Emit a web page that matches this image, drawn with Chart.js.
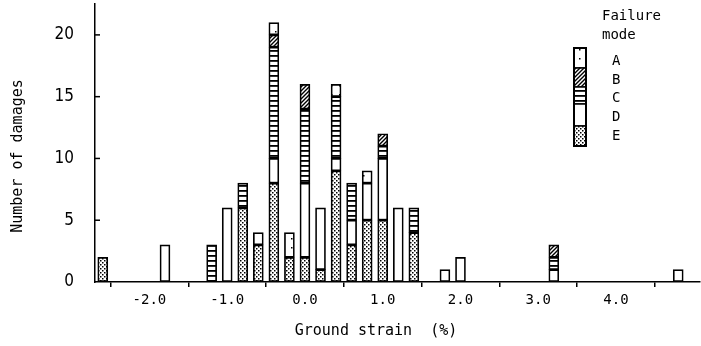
<!DOCTYPE html>
<html>
<head>
<meta charset="utf-8">
<script src="https://cdn.jsdelivr.net/npm/chart.js@4.4.0/dist/chart.umd.min.js"></script>
<style>
  html, body { margin: 0; padding: 0; background: #fff; }
  #wrap { width: 701px; height: 346px; }
</style>
</head>
<body>
<div id="wrap"><canvas id="canvas-damages" width="701" height="346"></canvas></div>
<script>
// Ground strain bins (%), one bar per bin
const strain = [-2.6, -1.8, -1.2, -1.0, -0.8, -0.6, -0.4, -0.2, 0.0, 0.2, 0.4, 0.6, 0.8, 1.0, 1.2, 1.4, 1.8, 2.0, 3.2, 4.8];

// Number of damages per failure mode (stacked E at bottom .. A on top)
const modeE = [2, 0, 0, 0, 6, 3, 8, 2, 2, 1, 9, 3, 5, 5, 0, 4, 0, 0, 0, 0];
const modeD = [0, 3, 0, 6, 0, 1, 2, 0, 6, 5, 1, 2, 3, 5, 6, 0, 1, 2, 1, 1];
const modeC = [0, 0, 3, 0, 2, 0, 9, 0, 6, 0, 5, 3, 0, 1, 0, 2, 0, 0, 1, 0];
const modeB = [0, 0, 0, 0, 0, 0, 1, 0, 2, 0, 0, 0, 0, 1, 0, 0, 0, 0, 1, 0];
const modeA = [0, 0, 0, 0, 0, 0, 1, 2, 0, 0, 1, 0, 1, 0, 0, 0, 0, 0, 0, 0];

const xTicks = [-2, -1, 0, 1, 2, 3, 4];
const yTicks = [0, 5, 10, 15, 20];
const modeNames = ['A', 'B', 'C', 'D', 'E'];

const xTitle = 'Ground strain  (%)';
const yTitle = 'Number of damages';

const mono = '"DejaVu Sans Mono", "Liberation Mono", monospace';
const narrow = '"Liberation Sans Narrow", "DejaVu Sans Condensed", sans-serif';

// Funcs

const makePattern = (w, h, draw) => {
    const c = document.createElement('canvas');
    c.width = w;
    c.height = h;
    const g = c.getContext('2d');
    g.fillStyle = '#fff';
    g.fillRect(0, 0, w, h);
    g.fillStyle = '#000';
    g.strokeStyle = '#000';
    draw(g);
    return g.createPattern(c, 'repeat');
};

const patterns = {
    A: makePattern(8, 9, g => { g.fillRect(3, 4, 1.5, 1.5); }),
    B: makePattern(4, 4, g => {
        g.lineWidth = 1.4;
        g.beginPath();
        g.moveTo(-1, 5); g.lineTo(5, -1);
        g.moveTo(-1, 1); g.lineTo(1, -1);
        g.moveTo(3, 5); g.lineTo(5, 3);
        g.stroke();
    }),
    C: makePattern(1, 5, g => { g.fillRect(0, 0, 1, 1.8); }),
    D: '#ffffff',
    E: makePattern(4, 4, g => {
        g.fillRect(0, 0, 1.5, 1.5);
        g.fillRect(2, 2, 1.5, 1.5);
    }),
};

const toPoints = arr => strain.map((s, i) => ({ x: s, y: arr[i] > 0 ? arr[i] : null }));

const makeDataset = (name, arr) => ({
    label: name,
    data: toPoints(arr),
    backgroundColor: patterns[name],
    borderColor: '#000',
    borderWidth: 1.7,
    borderSkipped: false,
    barThickness: 10,
});

const extrasPlugin = {
    id: 'extras',
    afterDraw(chart) {
        const { ctx, chartArea } = chart;
        const y = chart.scales.y;
        ctx.save();

        // tick marks on the inside of the y axis
        ctx.strokeStyle = '#000';
        ctx.lineWidth = 1.5;
        yTicks.forEach(v => {
            if (v === 0) return;
            const py = y.getPixelForValue(v);
            ctx.beginPath();
            ctx.moveTo(chartArea.left, py);
            ctx.lineTo(chartArea.left + 5, py);
            ctx.stroke();
        });

        // axis titles
        ctx.fillStyle = '#000';
        ctx.font = '15px ' + mono;
        ctx.textAlign = 'center';
        ctx.textBaseline = 'middle';
        ctx.fillText(xTitle, 376, 331);
        ctx.save();
        ctx.translate(18, 156);
        ctx.rotate(-Math.PI / 2);
        ctx.fillText(yTitle, 0, 0);
        ctx.restore();

        // legend: one stacked box with the five patterns
        ctx.textAlign = 'left';
        ctx.font = '14px ' + mono;
        ctx.fillText('Failure', 602, 16);
        ctx.fillText('mode', 602, 35);
        const edges = [48, 68, 87, 104, 126, 146];
        const labelY = [61, 80, 98, 117, 136];
        modeNames.forEach((m, i) => {
            ctx.fillStyle = patterns[m];
            ctx.fillRect(574, edges[i], 12, edges[i + 1] - edges[i]);
            ctx.strokeRect(574, edges[i], 12, edges[i + 1] - edges[i]);
            ctx.fillStyle = '#000';
            ctx.fillText(m, 612, labelY[i]);
        });
        ctx.lineWidth = 2;
        ctx.strokeRect(574, edges[0], 12, edges[5] - edges[0]);

        ctx.restore();
    }
};

const noPad = scale => {
    scale.paddingTop = 0;
    scale.paddingBottom = 0;
    scale.paddingLeft = 0;
    scale.paddingRight = 0;
};

const chartConfig = {
    type: 'bar',
    data: {
        datasets: [
            makeDataset('E', modeE),
            makeDataset('D', modeD),
            makeDataset('C', modeC),
            makeDataset('B', modeB),
            makeDataset('A', modeA),
        ]
    },
    options: {
        responsive: false,
        animation: false,
        layout: {
            padding: { top: 4, right: 1, left: 0, bottom: 0 },
        },
        scales: {
            x: {
                type: 'linear',
                stacked: true,
                offset: false,
                min: -2.7,
                max: 5.08,
                afterBuildTicks: scale => { scale.ticks = xTicks.map(v => ({ value: v })); },
                afterFit: scale => { scale.height = 64; noPad(scale); },
                border: { display: true, color: '#000', width: 1.5 },
                grid: { drawOnChartArea: false, drawTicks: true, tickLength: 5, color: '#000', lineWidth: 1.5 },
                ticks: {
                    color: '#000',
                    padding: 5,
                    maxRotation: 0,
                    font: { family: mono, size: 14 },
                    callback: v => v.toFixed(1),
                },
            },
            y: {
                stacked: true,
                min: 0,
                max: 22.5,
                afterBuildTicks: scale => { scale.ticks = yTicks.map(v => ({ value: v })); },
                afterFit: scale => { scale.width = 95; noPad(scale); },
                border: { display: true, color: '#000', width: 1.5 },
                grid: { drawOnChartArea: false, drawTicks: false },
                ticks: {
                    color: '#000',
                    padding: 21,
                    font: { family: narrow, size: 17 },
                },
            }
        },
        plugins: {
            legend: { display: false },
            tooltip: { enabled: false },
        }
    },
    plugins: [extrasPlugin],
};

new Chart(document.getElementById('canvas-damages').getContext('2d'), chartConfig);
</script>
</body>
</html>
